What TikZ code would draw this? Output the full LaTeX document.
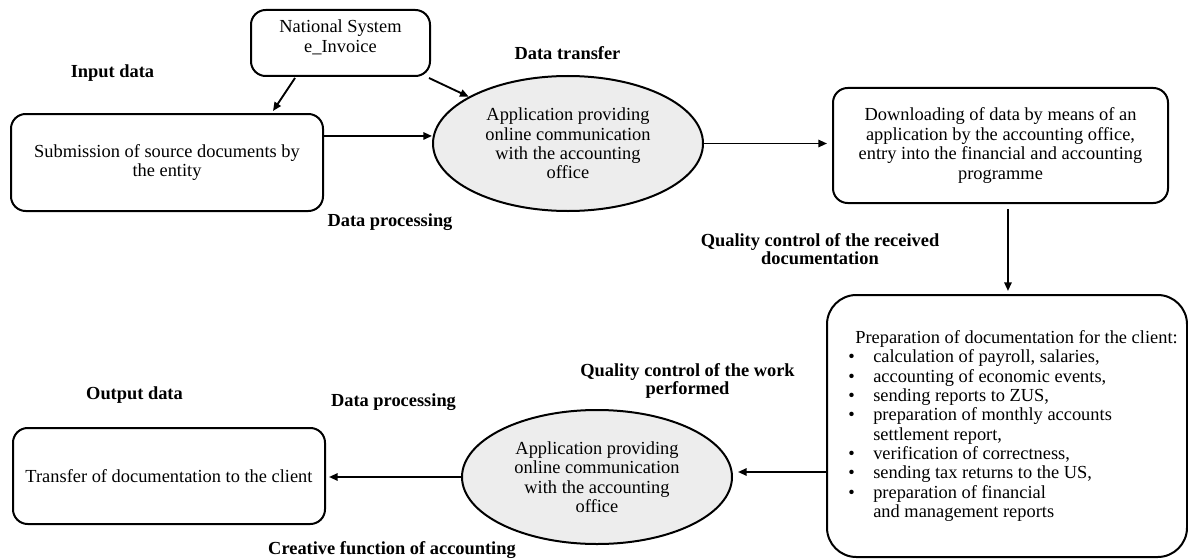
\documentclass[tikz,border=0pt]{standalone}
\usepackage{fontspec}
\setmainfont{Liberation Serif}
\usetikzlibrary{arrows.meta,shapes.geometric,calc}
\newcommand{\prepbullet}{\makebox[18.75pt][l]{\textbullet}}
\begin{document}
\begin{tikzpicture}[x=0.75pt,y=-0.75pt,
  box/.style={draw, line width=1.5pt, rounded corners=11pt, align=center, inner sep=0pt,
    font=\fontsize{13.8}{14.8}\selectfont},
  ellnode/.style={ellipse, draw, line width=1.5pt, fill=black!7, inner sep=0pt, align=center,
    font=\fontsize{13.8}{14.6}\selectfont},
  lbl/.style={font=\fontsize{13.8}{13.5}\selectfont\bfseries, align=center, inner sep=0pt},
  txt/.style={font=\fontsize{13.8}{14.5}\selectfont, inner sep=0pt},
  arr/.style={-{Triangle[length=6.5pt,width=5.5pt]}, line width=1.4pt}]
\useasboundingbox (0,0) rectangle (1188,560);

% boxes
\node[box, minimum width=134.25pt, minimum height=49.5pt] (nat) at (340.5,43)
  {National System\\e\_Invoice\\[-5pt]\mbox{}};
\node[box, minimum width=234pt, minimum height=72.75pt] (sub) at (167,162.5)
  {Submission of source documents by\\the entity};
\node[ellnode, minimum width=202.5pt, minimum height=101.25pt] (ell1) at (568,143.5)
  {Application providing\\online communication\\with the accounting\\office};
\node[box, minimum width=251.25pt, minimum height=86.25pt] (dl) at (1000.5,145.5)
  {Downloading of data by means of an\\application by the accounting office,\\entry into the financial and accounting\\programme};
\node[box, rounded corners=22pt, minimum width=270pt, minimum height=196.5pt] (prep) at (1007,426) {};
\node[txt, align=left, anchor=west] (preptext) at (848,426) {%
\hspace*{5.25pt}Preparation of documentation for the client:\\
\prepbullet calculation of payroll, salaries,\\
\prepbullet accounting of economic events,\\
\prepbullet sending reports to ZUS,\\
\prepbullet preparation of monthly accounts\\
\hspace*{18.75pt}settlement report,\\
\prepbullet verification of correctness,\\
\prepbullet sending tax returns to the US,\\
\prepbullet preparation of financial\\
\hspace*{18.75pt}and management reports};
\node[ellnode, minimum width=202.5pt, minimum height=100.5pt] (ell2) at (597,477)
  {Application providing\\online communication\\with the accounting\\office};
\node[box, minimum width=234pt, minimum height=72pt] (out) at (169,476)
  {Transfer of documentation to the client};

% labels
\node[lbl] (linput) at (112.5,73) {Input data};
\node[lbl] (ltransfer) at (567.5,53) {Data transfer};
\node[lbl] (lproc1) at (390,222) {Data processing};
\node[lbl] (lqcrec) at (820,249) {Quality control of the received\\documentation};
\node[lbl] (lqcwork) at (687.5,381) {Quality control of the work\\performed};
\node[lbl] (loutput) at (134.5,395) {Output data};
\node[lbl] (lproc2) at (393.5,402) {Data processing};
\node[lbl] (lcreative) at (392,550) {Creative function of accounting};

% connectors
\draw[arr] ([xshift=-34.1pt,yshift=-0.75pt]nat.south) -- ([xshift=79.5pt,yshift=1.5pt]sub.north);
\draw[arr] ([xshift=-1.5pt,yshift=-0.75pt]nat.south east) -- (ell1);
\draw[arr] ([yshift=19.9pt]sub.east) -- ([yshift=19.9pt]sub.east -| ell1.west);
\draw[arr, shorten >=3.75pt] (ell1.east) -- (ell1.east -| dl.west);
\draw[arr, shorten <=3.75pt, shorten >=2.25pt] ([xshift=5.6pt]dl.south) -- ([xshift=5.6pt]dl.south |- prep.north);
\draw[arr, shorten >=3.75pt] ([yshift=-34.5pt]prep.west) -- ([yshift=-34.5pt]prep.west -| ell2.east);
\draw[arr, shorten >=2.25pt] (ell2.west) -- (ell2.west -| out.east);
\end{tikzpicture}
\end{document}
